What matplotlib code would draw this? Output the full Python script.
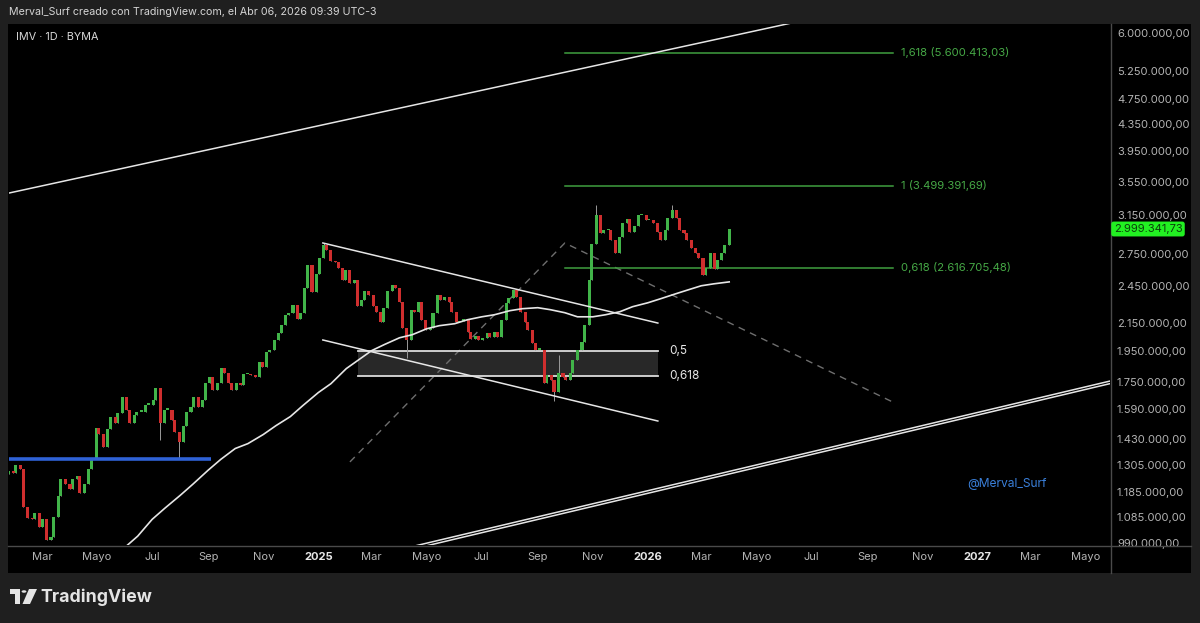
import matplotlib
matplotlib.use("Agg")
import matplotlib.pyplot as plt
import matplotlib.dates as mdates
from matplotlib.lines import Line2D
from matplotlib.patches import Rectangle, Polygon, Circle
from matplotlib.ticker import NullLocator, FixedLocator, FixedFormatter
import numpy as np
import pandas as pd

plt.rcParams['font.family'] = ['Inter', 'DejaVu Sans']

# IMV, velas de 3 ruedas, cierres en miles
first_open = 1262
closes_k = [1275, 1266, 1306, 1284, 1123, 1080, 1076, 1099, 1046, 1076,
            1000, 1010, 1084, 1167, 1239, 1218, 1196, 1239, 1252, 1180,
            1218, 1284, 1330, 1488, 1457, 1387, 1478, 1547, 1515, 1569,
            1655, 1586, 1515, 1553, 1575, 1575, 1614, 1614, 1643, 1714,
            1515, 1586, 1586, 1531, 1463, 1412, 1494, 1575, 1603, 1660,
            1603, 1643, 1745, 1782, 1702, 1745, 1839, 1807, 1745, 1702,
            1745, 1732, 1800, 1800, 1794, 1782, 1879, 1846, 1946, 1960,
            2030, 2079, 2140, 2217, 2232, 2297, 2186, 2232, 2439, 2645,
            2404, 2562, 2711, 2838, 2788, 2684, 2673, 2617, 2508, 2598,
            2482, 2508, 2289, 2338, 2413, 2379, 2289, 2241, 2163, 2273,
            2413, 2465, 2439, 2322, 2119, 2030, 2257, 2241, 2317, 2178,
            2103, 2118, 2232, 2379, 2338, 2363, 2317, 2241, 2163, 2170,
            2186, 2087, 2037, 2058, 2030, 2044, 2081, 2052, 2088, 2052,
            2178, 2313, 2355, 2422, 2363, 2241, 2163, 2103, 2009, 1960,
            1960, 1745, 1794, 1763, 1690, 1807, 1782, 1763, 1807, 1892,
            1960, 2010, 2140, 2508, 2848, 3154, 2960, 2992, 2992, 2888,
            2759, 2919, 3067, 3110, 2970, 3035, 3154, 3154, 3099, 3099,
            3067, 2970, 2888, 2992, 3120, 3210, 3121, 2992, 2960, 2888,
            2808, 2759, 2711, 2553, 2617, 2759, 2609, 2692, 2759, 2838,
            2999.34173]
# mechas largas (indice de vela: precio en miles)
spike_highs = {83: 2858, 145: 1926, 155: 3268, 175: 3268}
spike_lows = {40: 1423, 45: 1330, 105: 1905, 144: 1636}

# media movil (miles)
ma_dates = ['2024-06-01', '2024-06-15', '2024-07-01', '2024-07-15', '2024-08-01',
            '2024-08-15', '2024-09-01', '2024-09-15', '2024-10-01', '2024-10-15',
            '2024-11-01', '2024-11-15', '2024-12-01', '2024-12-15', '2025-01-01',
            '2025-01-15', '2025-02-01', '2025-02-15', '2025-03-01', '2025-03-15',
            '2025-04-01', '2025-04-15', '2025-05-01', '2025-05-15', '2025-06-01',
            '2025-06-15', '2025-07-01', '2025-07-15', '2025-08-01', '2025-08-15',
            '2025-09-01', '2025-09-15', '2025-10-01', '2025-10-15', '2025-11-01',
            '2025-11-15', '2025-12-01', '2025-12-15', '2026-01-01', '2026-01-15',
            '2026-02-01', '2026-02-15', '2026-03-01', '2026-03-15', '2026-04-01']
ma_values_k = [975, 1014, 1076, 1119, 1171, 1218, 1280, 1330, 1382, 1406,
               1452, 1498, 1547, 1609, 1684, 1738, 1833, 1892, 1953, 1995,
               2044, 2066, 2110, 2133, 2148, 2178, 2201, 2217, 2249, 2265,
               2273, 2257, 2233, 2201, 2201, 2217, 2241, 2281, 2313, 2346,
               2388, 2422, 2456, 2473, 2490]

# dibujos
support_line = (('2024-01-20', 1330000), ('2024-09-04', 1330000))
upper_trend = (('2024-01-20', 3398000), ('2026-06-18', 6255000))
lower_trend_a = (('2025-04-12', 975000), ('2027-06-02', 1761000))
lower_trend_b = (('2025-04-12', 966000), ('2027-06-02', 1745000))
channel_top = (('2025-01-06', 2857000), ('2026-01-12', 2153000))
channel_bottom = (('2025-01-06', 2028000), ('2026-01-12', 1523000))
dashed_path = [('2025-02-05', 1318000), ('2025-10-01', 2857000), ('2026-09-29', 1629000)]
zone_start, zone_end = '2025-02-14', '2026-01-12'
zone_levels = ['0,5', '0,618']
zone_prices = [1951000, 1786000]
fib_start, fib_end = '2025-10-01', '2026-09-29'
fib_levels = ['1,618', '1', '0,618']
fib_prices = [5600413.03, 3499391.69, 2616705.48]

price_ticks = [6000000, 5250000, 4750000, 4350000, 3950000, 3550000, 3150000,
               2750000, 2450000, 2150000, 1950000, 1750000, 1590000, 1430000,
               1305000, 1185000, 1085000, 990000]
month_names = {1: None, 3: 'Mar', 5: 'Mayo', 7: 'Jul', 9: 'Sep', 11: 'Nov'}

GREEN = '#41b449'
RED = '#cf2e2e'
BG = '#1f1f1f'
AXIS_TXT = '#b4b4b4'


def fmt_ar(v):
    s = f"{v:,.2f}"
    return s.replace(',', '_').replace('.', ',').replace('_', '.')


def fx(px):
    return px / 1200


def fy(py):
    return 1 - py / 623


def dn(d):
    return mdates.date2num(pd.Timestamp(d))


fig = plt.figure(figsize=(12, 6.23), dpi=100, facecolor=BG)
fig.add_artist(Rectangle((fx(8), fy(573)), fx(1191) - fx(8), fy(24) - fy(573),
                         transform=fig.transFigure, facecolor='black', edgecolor='none', zorder=0))

ax = fig.add_axes([fx(9), fy(545), fx(1110) - fx(9), fy(24) - fy(545)])
ax.set_facecolor('black')
ax.set_yscale('log')

# velas
closes = np.array(closes_k) * 1000
dates = pd.bdate_range(end='2026-04-01', periods=len(closes), freq='3B')
xs = mdates.date2num(dates)
opens = np.r_[first_open * 1000, closes[:-1]]
highs = np.maximum(opens, closes)
lows = np.minimum(opens, closes)
for i, v in spike_highs.items():
    highs[i] = v * 1000
for i, v in spike_lows.items():
    lows[i] = v * 1000
up = closes >= opens
body_lo = np.minimum(opens, closes)
body_h = np.maximum(np.abs(closes - opens), closes * 0.004)

ax.vlines(xs, lows, highs, color='#9a9a9a', lw=0.7, zorder=3)
ax.bar(xs[up], body_h[up], bottom=body_lo[up], width=3.4, color=GREEN, zorder=4, linewidth=0)
ax.bar(xs[~up], body_h[~up], bottom=body_lo[~up], width=3.4, color=RED, zorder=4, linewidth=0)

# media movil
ax.plot([dn(d) for d in ma_dates], np.array(ma_values_k) * 1000, color='#e6e6e6', lw=1.2, zorder=5)


def seg(line, **kw):
    (d0, p0), (d1, p1) = line
    ax.plot([dn(d0), dn(d1)], [p0, p1], **kw)


seg(support_line, color='#2f62d6', lw=2.6, zorder=6, solid_capstyle='butt')
for ln in (upper_trend, lower_trend_a, lower_trend_b, channel_top, channel_bottom):
    seg(ln, color='#e6e6e6', lw=1.1, zorder=6)

ax.plot([dn(d) for d, _ in dashed_path], [p for _, p in dashed_path],
        color='#6e6e6e', lw=1.0, ls=(0, (5, 4)), zorder=2)

# zona 0,5 - 0,618
z0, z1 = dn(zone_start), dn(zone_end)
ax.add_patch(Rectangle((z0, zone_prices[1]), z1 - z0, zone_prices[0] - zone_prices[1],
                       facecolor='#282828', edgecolor='none', zorder=1))
for lab, p in zip(zone_levels, zone_prices):
    ax.plot([z0, z1], [p, p], color='#dcdcdc', lw=1.3, zorder=2)
    ax.annotate(lab, (z1, p), xytext=(8, 0), textcoords='offset points', va='center',
                ha='left', color='#e8e8e8', fontsize=8.5)

# fibonacci
f0, f1 = dn(fib_start), dn(fib_end)
for lab, p in zip(fib_levels, fib_prices):
    ax.plot([f0, f1], [p, p], color='#3f9f3f', lw=1.1, zorder=2)
    ax.annotate(f"{lab} ({fmt_ar(p)})", (f1, p), xytext=(6, 0), textcoords='offset points',
                va='center', ha='left', color='#46a846', fontsize=8.2)

# ejes
x_ref = dn('2024-03-01')
ax.set_xlim(x_ref + (9 - 42) / 0.903, x_ref + (1110 - 42) / 0.903)
ax.set_ylim(982700, 6194000)

ax.yaxis.set_minor_locator(NullLocator())
ax.yaxis.set_major_locator(FixedLocator(price_ticks))
ax.yaxis.set_major_formatter(FixedFormatter([fmt_ar(v) for v in price_ticks]))
ax.yaxis.tick_right()
ax.tick_params(axis='y', length=0, pad=5, labelsize=8, labelcolor=AXIS_TXT)

tick_dates, tick_labels = [], []
for d in pd.date_range('2024-03-01', '2027-05-01', freq='MS'):
    if d.month in month_names:
        tick_dates.append(dn(d))
        tick_labels.append(str(d.year) if d.month == 1 else month_names[d.month])
ax.xaxis.set_major_locator(FixedLocator(tick_dates))
ax.xaxis.set_major_formatter(FixedFormatter(tick_labels))
ax.xaxis.set_minor_locator(NullLocator())
ax.tick_params(axis='x', length=0, pad=5, labelsize=8, labelcolor=AXIS_TXT)
for t in ax.get_xticklabels():
    if t.get_text().isdigit():
        t.set_fontweight('bold')
        t.set_color('#e6e6e6')
for s in ax.spines.values():
    s.set_visible(False)

# separadores del panel
fig.add_artist(Line2D([fx(8), fx(1191)], [fy(545.5), fy(545.5)], transform=fig.transFigure,
                      color='#4a4a4a', lw=1))
fig.add_artist(Line2D([fx(1110.5), fx(1110.5)], [fy(24), fy(573)], transform=fig.transFigure,
                      color='#4a4a4a', lw=1))

# etiqueta de ultimo precio
fig.text(fx(1148), fy(229), fmt_ar(closes[-1]), ha='center', va='center', fontsize=8,
         color='#0b3f0b', bbox=dict(boxstyle='round,pad=0.22', facecolor='#22f022', edgecolor='none'))

# textos
fig.text(fx(9), fy(12), 'Merval_Surf creado con TradingView.com, el Abr 06, 2026 09:39 UTC-3',
         ha='left', va='center', fontsize=7.7, color='#d4d4d4')
fig.text(fx(16), fy(37), 'IMV · 1D · BYMA', ha='left', va='center', fontsize=7.8, color='#d8d8d8')
fig.text(fx(1007), fy(484), '@Merval_Surf', ha='center', va='center', fontsize=8.7, color='#3a7fd9')

# logo TradingView
logo = '#e4e4e4'
fig.add_artist(Rectangle((fx(10), fy(594)), fx(10), fy(589) - fy(594), transform=fig.transFigure,
                         facecolor=logo, edgecolor='none'))
fig.add_artist(Rectangle((fx(15), fy(604)), fx(5), fy(594) - fy(604), transform=fig.transFigure,
                         facecolor=logo, edgecolor='none'))
fig.add_artist(Circle((fx(24), fy(591.5)), 2.4 / 1200, transform=fig.transFigure,
                      facecolor=logo, edgecolor='none'))
fig.add_artist(Polygon([(fx(29), fy(589)), (fx(37), fy(589)), (fx(30), fy(604)), (fx(22.5), fy(604))],
                       transform=fig.transFigure, facecolor=logo, edgecolor='none'))
fig.text(fx(40), fy(597), 'TradingView', ha='left', va='center', fontsize=12.8,
         fontweight='bold', color=logo)

fig.savefig('out.png', dpi=100, facecolor=BG)
